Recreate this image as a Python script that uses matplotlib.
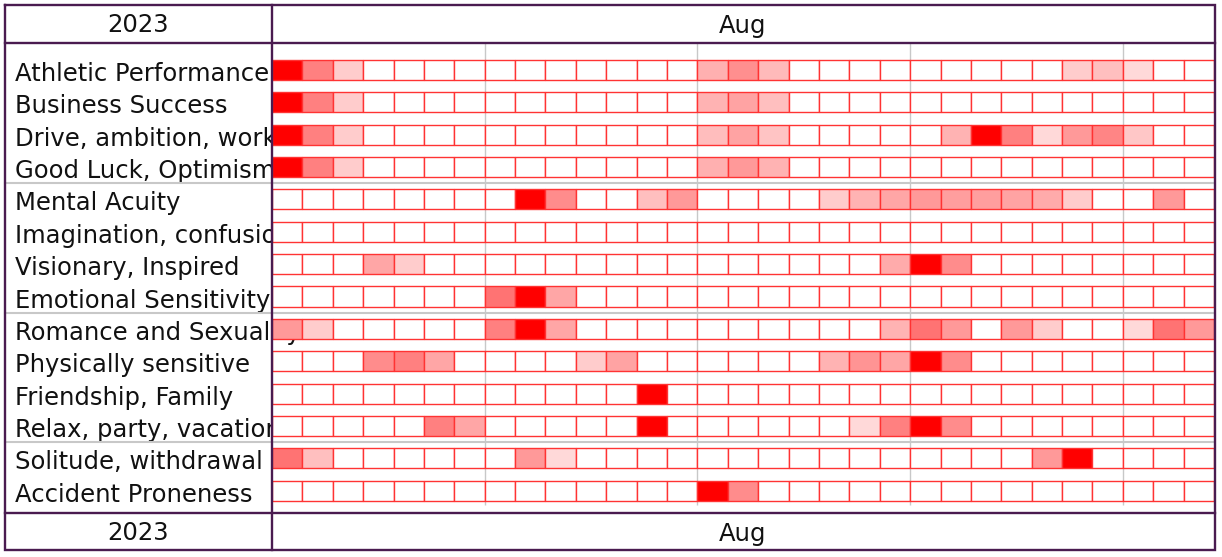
import matplotlib
matplotlib.use('Agg')
import matplotlib.pyplot as plt
from matplotlib.patches import Rectangle
from matplotlib.transforms import blended_transform_factory

# ---------------- data ----------------
year_label = "2023"
month_label = "Aug"
days = list(range(1, 32))

labels = [
    "Athletic Performance",
    "Business Success",
    "Drive, ambition, work",
    "Good Luck, Optimism",
    "Mental Acuity",
    "Imagination, confusion",
    "Visionary, Inspired",
    "Emotional Sensitivity",
    "Romance and Sexuality",
    "Physically sensitive",
    "Friendship, Family",
    "Relax, party, vacation",
    "Solitude, withdrawal",
    "Accident Proneness",
]

# intensity per day (0 = none, 1 = strongest), Aug 1..31
athletic    = [1, .5, .2, 0, 0, 0, 0, 0, 0, 0, 0, 0, 0, 0, .31, .44, .27, 0, 0, 0, 0, 0, 0, 0, 0, 0, .2, .25, .15, 0, 0]
business    = [1, .5, .2, 0, 0, 0, 0, 0, 0, 0, 0, 0, 0, 0, .3, .36, .25, 0, 0, 0, 0, 0, 0, 0, 0, 0, 0, 0, 0, 0, 0]
drive       = [1, .5, .2, 0, 0, 0, 0, 0, 0, 0, 0, 0, 0, 0, .26, .36, .23, 0, 0, 0, 0, 0, .3, 1, .5, .15, .4, .48, .22, 0, 0]
good_luck   = [1, .5, .2, 0, 0, 0, 0, 0, 0, 0, 0, 0, 0, 0, .31, .4, .3, 0, 0, 0, 0, 0, 0, 0, 0, 0, 0, 0, 0, 0, 0]
mental      = [0, 0, 0, 0, 0, 0, 0, 0, 1, .45, 0, 0, .25, .4, 0, 0, 0, 0, .2, .3, .35, .4, .38, .38, .36, .33, .2, 0, 0, .4, 0]
imagination = [0] * 31
visionary   = [0, 0, 0, .35, .2, 0, 0, 0, 0, 0, 0, 0, 0, 0, 0, 0, 0, 0, 0, 0, .33, 1, .45, 0, 0, 0, 0, 0, 0, 0, 0]
emotional   = [0, 0, 0, 0, 0, 0, 0, .55, 1, .35, 0, 0, 0, 0, 0, 0, 0, 0, 0, 0, 0, 0, 0, 0, 0, 0, 0, 0, 0, 0, 0]
romance     = [.4, .2, 0, 0, 0, 0, 0, .5, 1, .35, 0, 0, 0, 0, 0, 0, 0, 0, 0, 0, .3, .55, .4, 0, .4, .2, 0, 0, .15, .55, .4]
physical    = [0, 0, 0, .45, .5, .35, 0, 0, 0, 0, .2, .36, 0, 0, 0, 0, 0, 0, .3, .42, .35, 1, .45, 0, 0, 0, 0, 0, 0, 0, 0]
friendship  = [0, 0, 0, 0, 0, 0, 0, 0, 0, 0, 0, 0, 1, 0, 0, 0, 0, 0, 0, 0, 0, 0, 0, 0, 0, 0, 0, 0, 0, 0, 0]
relax       = [0, 0, 0, 0, 0, .5, .35, 0, 0, 0, 0, 0, 1, 0, 0, 0, 0, 0, 0, .15, .5, 1, .45, 0, 0, 0, 0, 0, 0, 0, 0]
solitude    = [.55, .25, 0, 0, 0, 0, 0, 0, .4, .15, 0, 0, 0, 0, 0, 0, 0, 0, 0, 0, 0, 0, 0, 0, 0, .4, 1, 0, 0, 0, 0]
accident    = [0, 0, 0, 0, 0, 0, 0, 0, 0, 0, 0, 0, 0, 0, 1, .45, 0, 0, 0, 0, 0, 0, 0, 0, 0, 0, 0, 0, 0, 0, 0]

values = [athletic, business, drive, good_luck, mental, imagination, visionary,
          emotional, romance, physical, friendship, relax, solitude, accident]

group_starts = [4, 8, 12]        # rows that begin a new group
week_start_days = [8, 15, 22, 29]  # day at which a week separator is drawn

# ---------------- layout ----------------
W, H = 1222, 557
fig = plt.figure(figsize=(W / 100, H / 100), dpi=100)
fig.patch.set_facecolor('white')

FRAME = '#4a1b50'
GRID = '#c8c8c8'
EDGE = '#ff3333'
FS = 17.5
FS_HEAD = 17.5

left_px, right_px, top_px, bot_px = 272, 1214, 43, 513
ax = fig.add_axes([left_px / W, 1 - bot_px / H, (right_px - left_px) / W, (bot_px - top_px) / H])
ax.set_xlim(days[0] - 0.5, days[-1] + 0.5)
ytop, ybot = -0.834, 13.69
ax.set_ylim(ybot, ytop)
ax.axis('off')

cell_h = 0.62
for r, row in enumerate(values):
    for d, v in zip(days, row):
        fc = (1.0, 1.0 - v, 1.0 - v)
        ax.add_patch(Rectangle((d - 0.5, r - cell_h / 2), 1, cell_h, facecolor=fc,
                               edgecolor=EDGE, linewidth=1.0, zorder=3))

# weekly separators
ax.vlines([d - 0.5 for d in week_start_days], ytop, 13.45, color=GRID, lw=1.0, zorder=1)

# group separators across full width (incl. label column)
tr = blended_transform_factory(fig.transFigure, ax.transData)
for g in group_starts:
    ax.plot([5 / W, right_px / W], [g - 0.5, g - 0.5], transform=tr, color=GRID,
            lw=1.5, zorder=1, clip_on=False)

# row labels (drawn under the cells, so overflow is hidden)
for r, lab in enumerate(labels):
    ax.text(15 / W, r + 0.34, lab, transform=tr, ha='left', va='baseline',
            fontsize=FS, color='#111111', zorder=0, clip_on=False)

# ---------------- frame & headers (overlay) ----------------
ov = fig.add_axes([0, 0, 1, 1], facecolor='none')
ov.set_xlim(0, W)
ov.set_ylim(H, 0)
ov.axis('off')
lw = 1.7
ov.plot([5, 1215, 1215, 5, 5], [5, 5, 550, 550, 5], color=FRAME, lw=lw, solid_joinstyle='miter')
ov.plot([272, 272], [5, 550], color=FRAME, lw=lw)
ov.plot([5, 1215], [43, 43], color=FRAME, lw=lw)
ov.plot([5, 1215], [513, 513], color=FRAME, lw=lw)

for yc in (25.5, 533.5):
    ov.text(138.5, yc, year_label, ha='center', va='center', fontsize=FS_HEAD, color='#111111')
    ov.text((272 + 1214) / 2, yc, month_label, ha='center', va='center', fontsize=FS_HEAD, color='#111111')

fig.savefig('out.png', dpi=100, facecolor='white')
